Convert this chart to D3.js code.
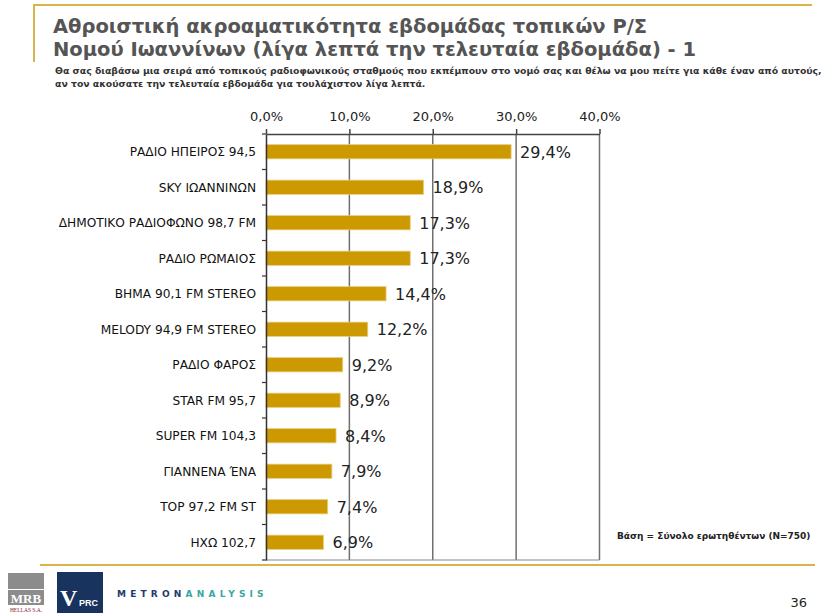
<!DOCTYPE html>
<html><head><meta charset="utf-8">
<script src="https://cdn.jsdelivr.net/npm/d3@7/dist/d3.min.js"></script>
<style>
html,body{margin:0;padding:0;background:#fff;}
svg{display:block;}
</style></head>
<body>
<svg id="chart" width="840" height="613"></svg>
<script>
const categories = ["ΡΑΔΙΟ ΗΠΕΙΡΟΣ 94,5","SKY ΙΩΑΝΝΙΝΩΝ","ΔΗΜΟΤΙΚΟ ΡΑΔΙΟΦΩΝΟ 98,7 FM","ΡΑΔΙΟ ΡΩΜΑΙΟΣ","ΒΗΜΑ 90,1 FM STEREO","MELODY 94,9 FM STEREO","ΡΑΔΙΟ ΦΑΡΟΣ","STAR FM 95,7","SUPER FM 104,3","ΓΙΑΝΝΕΝΑ ΈΝΑ","TOP 97,2 FM ST","ΗΧΩ 102,7"];
const values = [29.4,18.9,17.3,17.3,14.4,12.2,9.2,8.9,8.4,7.9,7.4,6.9];
const tickValues = [0,10,20,30,40];
const titleLines = ["Αθροιστική ακροαματικότητα εβδομάδας τοπικών Ρ/Σ","Νομού Ιωαννίνων (λίγα λεπτά την τελευταία εβδομάδα) - 1"];
const subtitleLines = ["Θα σας διαβάσω μια σειρά από τοπικούς ραδιοφωνικούς σταθμούς που εκπέμπουν στο νομό σας και θέλω να μου πείτε για κάθε έναν από αυτούς,","αν τον ακούσατε την τελευταία εβδομάδα για τουλάχιστον λίγα λεπτά."];
const baseNote = "Βάση = Σύνολο ερωτηθέντων (Ν=750)";
const pageNumber = "36";

const fmt = v => d3.format(".1f")(v).replace(".", ",") + "%";
const svg = d3.select("#chart");
const gold = "#d9b44a";

// header frame
svg.append("line").attr("x1",33).attr("x2",812).attr("y1",5).attr("y2",5).attr("stroke",gold).attr("stroke-width",2);
svg.append("line").attr("x1",34).attr("x2",34).attr("y1",5).attr("y2",62).attr("stroke",gold).attr("stroke-width",2);

svg.append("g").selectAll("text").data(titleLines).join("text")
  .attr("x",53).attr("y",(d,i)=>33+i*23)
  .attr("font-family","DejaVu Sans").attr("font-weight","bold").attr("font-size",19.5)
  .attr("fill","#555").text(d=>d);
svg.append("g").selectAll("text").data(subtitleLines).join("text")
  .attr("x",55).attr("y",(d,i)=>74+i*13)
  .attr("font-family","DejaVu Sans").attr("font-weight","bold").attr("font-size",9.3)
  .attr("fill","#333").text(d=>d);

// chart
const x = d3.scaleLinear().domain([0,40]).range([266,599.5]);
const y = d3.scaleBand().domain(categories).range([134,560]).paddingInner(0.6).paddingOuter(0.3);
const yb = d3.scaleBand().domain(categories).range([134,560]);

// gridlines
svg.append("g").selectAll("line").data(tickValues.slice(1)).join("line")
  .attr("x1",d=>x(d)).attr("x2",d=>x(d)).attr("y1",134).attr("y2",560)
  .attr("stroke","#707070").attr("stroke-width",1.5);
// bottom line
svg.append("line").attr("x1",x(0)).attr("x2",x(40)).attr("y1",560).attr("y2",560).attr("stroke","#888").attr("stroke-width",1.2);

// top axis
const xAxis = d3.axisTop(x).tickValues(tickValues).tickFormat(d=>d3.format(".1f")(d).replace(".",",")+"%").tickSize(5).tickSizeOuter(0);
const gx = svg.append("g").attr("transform","translate(0,134)").call(xAxis);
gx.select(".domain").attr("stroke","#444").attr("stroke-width",1.5);
gx.selectAll(".tick line").attr("stroke","#444").attr("stroke-width",1.5);
gx.selectAll(".tick text").attr("font-family","DejaVu Sans").attr("font-size",13).attr("fill","#222").attr("dy",-5);

// bars
svg.append("g").selectAll("rect").data(values).join("rect")
  .attr("x",x(0)).attr("y",(d,i)=>y(categories[i]))
  .attr("width",d=>x(d)-x(0)).attr("height",y.bandwidth())
  .attr("fill","#cc9900").attr("stroke","#e8cc80").attr("stroke-width",0.8);

// left axis
const yAxis = d3.axisLeft(yb).tickSize(0).tickPadding(10);
const gy = svg.append("g").attr("transform",`translate(${x(0)},0)`).call(yAxis);
gy.select(".domain").attr("stroke","#333").attr("stroke-width",1.5);
gy.selectAll(".tick text").attr("font-family","DejaVu Sans").attr("font-size",12.2).attr("fill","#111").attr("dy","0.38em");
// band boundary ticks
svg.append("g").selectAll("line").data(d3.range(categories.length+1)).join("line")
  .attr("x1",x(0)-4).attr("x2",x(0)).attr("y1",i=>134+i*yb.step()).attr("y2",i=>134+i*yb.step())
  .attr("stroke","#333").attr("stroke-width",1.2);

// value labels
svg.append("g").selectAll("text").data(values).join("text")
  .attr("x",d=>x(d)+9).attr("y",(d,i)=>y(categories[i])+y.bandwidth()/2)
  .attr("dy","0.38em")
  .attr("font-family","DejaVu Sans").attr("font-size",16).attr("fill","#222").text(d=>fmt(d));

// base note
svg.append("text").attr("x",617).attr("y",539).attr("font-family","DejaVu Sans").attr("font-weight","bold")
  .attr("font-size",9).attr("fill","#222").text(baseNote);

// footer
svg.append("line").attr("x1",40).attr("x2",815).attr("y1",565).attr("y2",565).attr("stroke",gold).attr("stroke-width",2);
// MRB logo
svg.append("rect").attr("x",8).attr("y",573).attr("width",36).attr("height",16).attr("fill","#8c8c8c");
svg.append("rect").attr("x",8).attr("y",590).attr("width",36).attr("height",15).attr("fill","#8c8c8c");
svg.append("text").attr("x",26).attr("y",603).attr("text-anchor","middle").attr("font-family","Liberation Serif")
  .attr("font-weight","bold").attr("font-size",13).attr("fill","#fff").text("MRB");
svg.append("text").attr("x",26).attr("y",612).attr("text-anchor","middle").attr("font-family","Liberation Serif")
  .attr("font-size",5.5).attr("fill","#8a2030").text("HELLAS S.A.");
// VPRC logo
svg.append("rect").attr("x",57).attr("y",572).attr("width",46).attr("height",41).attr("fill","#17335e");
svg.append("text").attr("x",60).attr("y",606).attr("font-family","Liberation Serif").attr("font-weight","bold")
  .attr("font-size",24).attr("fill","#fff").text("V");
svg.append("text").attr("x",79).attr("y",606).attr("font-family","Liberation Sans Narrow, Liberation Sans").attr("font-weight","bold")
  .attr("font-size",9).attr("fill","#fff").text("PRC");
// Metron Analysis
const mt = svg.append("text").attr("x",117).attr("y",597).attr("font-family","DejaVu Sans").attr("font-weight","bold")
  .attr("font-size",9).attr("letter-spacing",4.2);
mt.append("tspan").attr("fill","#1d3a6b").text("METRON");
mt.append("tspan").attr("fill","#3aa7a0").text("ANALYSIS");
svg.append("text").attr("x",807).attr("y",607).attr("text-anchor","end").attr("font-family","DejaVu Sans")
  .attr("font-size",13).attr("fill","#222").text(pageNumber);
</script>
</body></html>
